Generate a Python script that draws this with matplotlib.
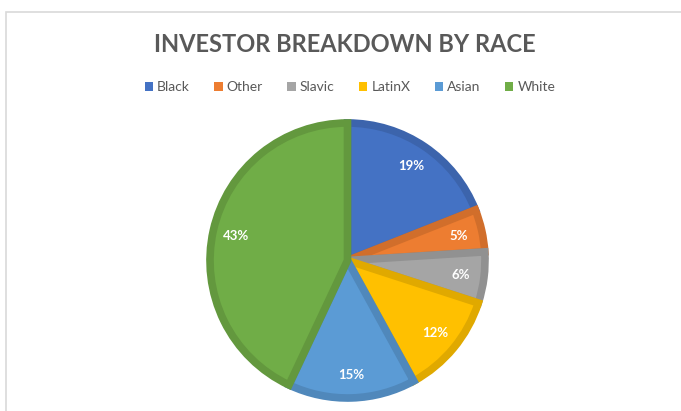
import matplotlib
matplotlib.use("Agg")
import matplotlib.pyplot as plt
import matplotlib.colors as mcolors
from matplotlib.patches import Rectangle, Patch

# data
races = ["Black", "Other", "Slavic", "LatinX", "Asian", "White"]
shares = [19, 5, 6, 12, 15, 43]
colors = ["#4472C4", "#ED7D31", "#A5A5A5", "#FFC000", "#5B9BD5", "#70AD47"]

plt.rcParams['font.family'] = ['Lato', 'DejaVu Sans']

fig = plt.figure(figsize=(6.81, 4.11), dpi=100)

# light chart frame (top + left visible)
fig.patches.append(Rectangle((6 / 681, -0.1), 1.2, (411 - 12) / 411 + 0.1,
                             transform=fig.transFigure, fill=False,
                             edgecolor="#D9D9D9", linewidth=1.2))

fig.text(345 / 681, 1 - 44 / 411, "INVESTOR BREAKDOWN BY RACE",
         ha="center", va="center", fontsize=17, fontweight="bold", color="#595959")

ax = fig.add_axes([210 / 681, 13 / 411, 275 / 681, 275 / 411])
wedges, texts, autotexts = ax.pie(
    shares, colors=colors, startangle=90, counterclock=False,
    autopct="%d%%", pctdistance=0.83,
    textprops=dict(color="white", fontsize=9.5, fontweight="bold"))

# darker inner border on each slice
for w, c in zip(wedges, colors):
    dark = tuple(v * 0.88 for v in mcolors.to_rgb(c))
    w.set_edgecolor(dark)
    w.set_linewidth(5.5)
    w.set_joinstyle("miter")
    w.set_clip_path(w)

ax.set_xlim(-1, 1)
ax.set_ylim(-1, 1)

handles = [Patch(facecolor=c, edgecolor="none") for c in colors]
fig.legend(handles, races, loc="center", bbox_to_anchor=(350 / 681, 1 - 87 / 411),
           ncol=6, frameon=False, fontsize=10, handlelength=0.6, handleheight=0.6,
           handletextpad=0.3, columnspacing=1.75, labelcolor="#595959")

fig.savefig("out.png", dpi=100)
